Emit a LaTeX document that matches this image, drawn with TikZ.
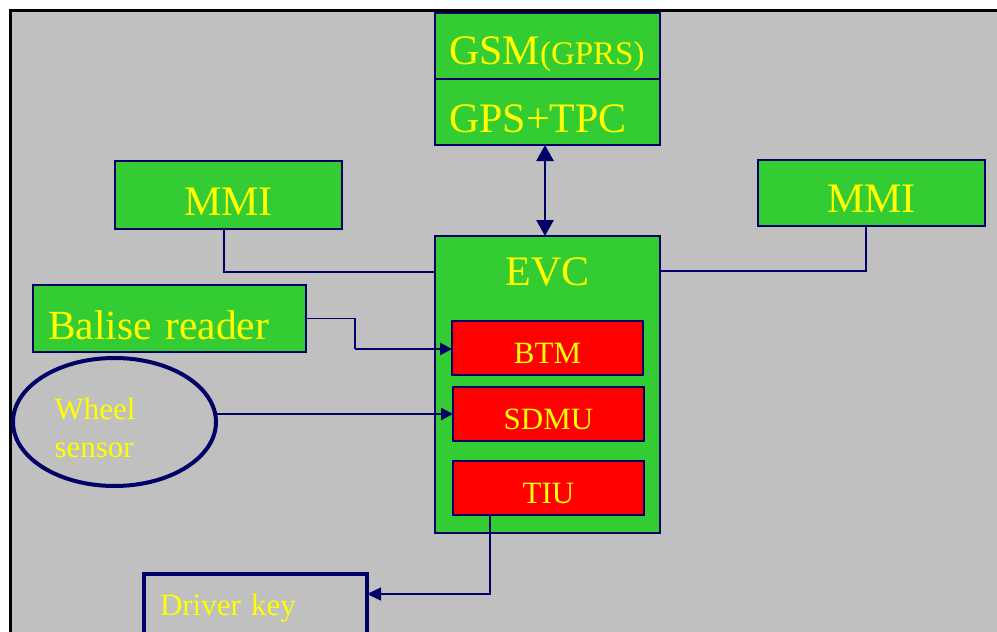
\documentclass[tikz,border=0pt]{standalone}
\usepackage{fontspec}
\setmainfont{Liberation Serif}
\usetikzlibrary{arrows.meta,shapes.geometric,calc}
\definecolor{bggray}{HTML}{C0C0C0}
\definecolor{boxgreen}{HTML}{33CC33}
\definecolor{boxred}{HTML}{FF0000}
\definecolor{txtyellow}{HTML}{FFFF00}
\definecolor{navy}{HTML}{000066}
\tikzset{
  gbox/.style={draw=navy, line width=1.3pt, fill=boxgreen, text=txtyellow, inner sep=0pt, outer sep=0pt, anchor=north west},
  rbox/.style={draw=navy, line width=1.3pt, fill=boxred, text=txtyellow, inner sep=0pt, outer sep=0pt, anchor=north west,
    minimum width=191pt, minimum height=54pt, text height=30pt, text depth=0pt, font=\fontsize{31}{36}\selectfont},
  bigfont/.style={font=\fontsize{42}{48}\selectfont},
  conn/.style={draw=navy, line width=1.4pt},
  thickconn/.style={draw=navy, line width=2.5pt, -{Triangle[length=12pt,width=12pt]}},
}
\begin{document}
\begin{tikzpicture}[x=1pt,y=-1pt]
\useasboundingbox (0,0) rectangle (997,632);
\clip (0,0) rectangle (997,632);
\fill[white] (0,0) rectangle (997,632);
\fill[bggray] (10,10) rectangle (1000,640);
\draw[black, line width=3pt] (10,645) -- (10,10) -- (1000,10);

% top stack
\node[gbox, bigfont, minimum width=225pt, minimum height=66pt, text width=197pt, align=left,
      text height=36pt, text depth=0pt] (gsm) at (435,13) {GSM{\fontsize{33}{36}\selectfont(GPRS)}};
\node[gbox, bigfont, anchor=north, minimum width=225pt, minimum height=66pt, text width=197pt, align=left,
      text height=40pt, text depth=0pt] (gps) at (gsm.south) {GPS+TPC};

% EVC
\node[gbox, bigfont, minimum width=225pt, minimum height=297pt, text height=0pt, text depth=199pt] (evc) at (435,236) {EVC};
\node[rbox] (btm) at (452,321) {BTM};
\node[rbox] (sdmu) at (453,387) {SDMU};
\node[rbox] (tiu) at (453,461) {TIU};

% MMIs
\node[gbox, bigfont, minimum width=227pt, minimum height=68pt, text height=40pt, text depth=0pt] (mmil) at (115,161) {MMI};
\node[gbox, bigfont, minimum width=227pt, minimum height=66pt, text height=38pt, text depth=0pt] (mmir) at (758,160) {MMI};

% Balise reader
\node[gbox, font=\fontsize{41.5}{48}\selectfont, minimum width=273pt, minimum height=67pt, text width=243pt, align=left,
      text height=41pt, text depth=0pt] (bal) at (33,285) {Balise reader};

% Wheel sensor
\node[draw=navy, line width=4pt, ellipse, minimum width=203pt, minimum height=128pt, inner sep=0pt, outer sep=0pt,
      text=txtyellow, font=\fontsize{31}{38}\selectfont, text width=120pt, align=left] (ws) at (114.5,422)
      {\rule{0pt}{33pt}Wheel\\sensor};

% Driver key
\node[draw=navy, line width=4pt, inner sep=0pt, outer sep=0pt, minimum width=223pt, minimum height=70pt, anchor=north west,
      text width=191pt, align=left, text=txtyellow, font=\fontsize{31}{36}\selectfont, text height=20pt, text depth=8pt]
      (dk) at (144,574) {Driver key};

% helper coordinates
\coordinate (xl) at (224,0);
\coordinate (xr) at (866,0);
\coordinate (xg) at (545,0);
\coordinate (xt) at (490,0);
\coordinate (yl) at (0,272);
\coordinate (yr) at (0,271);
\coordinate (yd) at (0,594);
\coordinate (bbend) at (355,349);

% connectors
\draw[conn] (mmil.south -| xl) |- (evc.west |- yl);
\draw[conn] (evc.east |- yr) -| (mmir.south -| xr);
\draw[draw=navy, line width=2.8pt, {Triangle[length=16pt,width=17pt]}-{Triangle[length=16pt,width=17pt]}]
     (gps.south -| xg) -- (evc.north -| xg);
\draw[conn] (bal.east) -| (bbend);
\draw[thickconn] (bbend) -- (btm.west |- bbend);
\draw[thickconn] (ws.east |- sdmu.west) -- (sdmu.west);
\draw[conn, -{Triangle[length=14pt,width=13pt]}] (tiu.south -| xt) |- (dk.east |- yd);
\end{tikzpicture}
\end{document}
